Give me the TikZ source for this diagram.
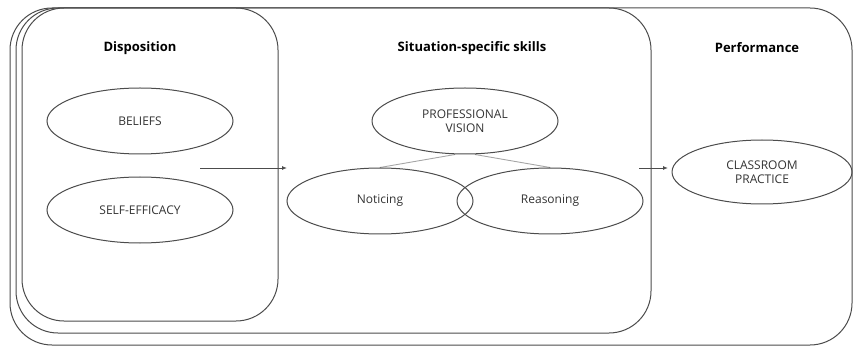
\documentclass[tikz,border=0pt]{standalone}
\usepackage{fontspec}
\setmainfont{Open Sans}
\usetikzlibrary{shapes.geometric,arrows.meta}
\newcommand{\lineColor}[0]{black!70}
\newcommand{\boxRadius}[0]{42pt}
\newcommand{\linkOpacity}[0]{0.35}
\begin{document}
\begin{tikzpicture}[x=1pt, y=-1pt, >={Latex[length=5pt,width=4pt]}]
  \tikzset{every node/.style={inner sep=0pt},
    stage box/.style={draw=\lineColor, line width=1pt, rounded corners=\boxRadius},
    concept/.style={ellipse, draw=\lineColor, line width=1pt, minimum width=186pt,
      minimum height=66pt, align=center, text=black!80,
      font=\fontsize{12}{14.5}\selectfont},
    heading/.style={font=\fontsize{13}{15}\selectfont\bfseries}}
  \useasboundingbox (0,0) rectangle (853,347);
  % stacked stage boxes
  \node[stage box, minimum width=842pt, minimum height=337pt](box-3) at (431,176.5) {};
  \node[stage box, minimum width=635pt, minimum height=325pt](box-2) at (333.5,170.5) {};
  \node[stage box, minimum width=256pt, minimum height=313pt](box-1) at (150,164.5) {};
  \node[heading](head-1) at (140,48) {Disposition};
  \node[heading](head-2) at (472,48) {Situation-specific skills};
  \node[heading](head-3) at (757,48) {Performance};
  % concepts
  \node[concept](belief) at (140,121) {BELIEFS};
  \node[concept](efficacy) at (140,210) {SELF-EFFICACY};
  \node[concept](vision) at (465,121) {PROFESSIONAL\\VISION};
  \node[concept](notice) at (380,201) {Noticing};
  \node[concept](reason) at (550,201) {Reasoning};
  \node[concept, minimum width=180pt, minimum height=64pt](practice) at (762,172) {CLASSROOM\\PRACTICE};
  \coordinate(arrow-1-a) at (200,168);
  \coordinate(arrow-1-b) at (287,168);
  \coordinate(arrow-2-a) at (639,168);
  \coordinate(arrow-2-b) at (668,168);
  \draw[\lineColor, line width=0.9pt, ->] (arrow-1-a) -- (arrow-1-b);
  \draw[\lineColor, line width=0.9pt, ->] (arrow-2-a) -- (arrow-2-b);
  \draw[black, opacity=\linkOpacity, line width=0.9pt] ([xshift=-10pt]vision.south) -- (notice.north);
  \draw[black, opacity=\linkOpacity, line width=0.9pt] ([xshift=10pt]vision.south) -- (reason.north);
\end{tikzpicture}
\end{document}
